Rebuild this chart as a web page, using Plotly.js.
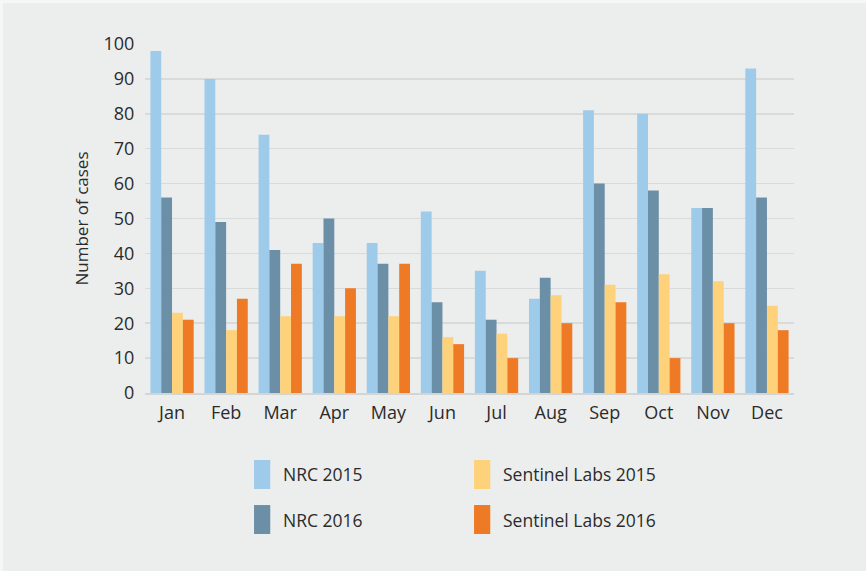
<!DOCTYPE html>
<html>
<head>
<meta charset="utf-8">
<script src="https://cdn.plot.ly/plotly-3.0.1.min.js"></script>
<style>
  html, body { margin: 0; padding: 0; background: #f5f6f6; }
  #chart { position: absolute; left: 3px; top: 3px; width: 863px; height: 568px; }
</style>
</head>
<body>
<div id="chart"></div>
<script>
const months = ["Jan","Feb","Mar","Apr","May","Jun","Jul","Aug","Sep","Oct","Nov","Dec"];
const nrc2015 = [98, 90, 74, 43, 43, 52, 35, 27, 81, 80, 53, 93];
const nrc2016 = [56, 49, 41, 50, 37, 26, 21, 33, 60, 58, 53, 56];
const sentinel2015 = [23, 18, 22, 22, 22, 16, 17, 28, 31, 34, 32, 25];
const sentinel2016 = [21, 27, 37, 30, 37, 14, 10, 20, 26, 10, 20, 18];
const seriesNames = ["NRC 2015", "NRC 2016", "Sentinel Labs 2015", "Sentinel Labs 2016"];
const yTicks = [0,10,20,30,40,50,60,70,80,90,100];

const colors = ["#9ecbea", "#6c8fa8", "#fed17b", "#ee7a25"];
const seriesData = [nrc2015, nrc2016, sentinel2015, sentinel2016];

const traces = seriesData.map((vals, i) => ({
  type: "bar",
  x: months,
  y: vals,
  name: seriesNames[i],
  marker: { color: colors[i], line: { width: 0 } },
  showlegend: false,
  hoverinfo: "x+y+name"
}));

const font = "'Open Sans', 'Noto Sans', sans-serif";

// custom legend: 2 columns x 2 rows (column 1 NRC, column 2 Sentinel)
const legendPos = [
  { col: 0, row: 0 }, { col: 0, row: 1 }, { col: 1, row: 0 }, { col: 1, row: 1 }
];
const colX = [0.168, 0.507];
const rowY = [[-0.275, -0.192], [-0.404, -0.321]];
const shapes = [];
const annotations = [];
legendPos.forEach((p, i) => {
  shapes.push({
    type: "rect", xref: "paper", yref: "paper",
    x0: colX[p.col], x1: colX[p.col] + 0.025,
    y0: rowY[p.row][0], y1: rowY[p.row][1],
    fillcolor: colors[i], line: { width: 0 }
  });
  annotations.push({
    xref: "paper", yref: "paper",
    x: colX[p.col] + 0.041, y: (rowY[p.row][0] + rowY[p.row][1]) / 2,
    xanchor: "left", yanchor: "middle",
    text: seriesNames[i], showarrow: false,
    font: { family: font, size: 17.5, color: "#2b2b2b" }
  });
});

const layout = {
  width: 863, height: 568,
  paper_bgcolor: "#eceeed",
  plot_bgcolor: "#eceeed",
  margin: { l: 142, r: 72, t: 41, b: 178 },
  barmode: "group",
  bargap: 0.2,
  bargroupgap: 0,
  font: { family: font, size: 17, color: "#2b2b2b" },
  xaxis: {
    type: "category",
    showgrid: false,
    zeroline: false,
    showline: true,
    linecolor: "#d3d5d5",
    linewidth: 2,
    ticks: "outside", ticklen: 2, tickcolor: "rgba(0,0,0,0)",
    tickfont: { family: font, size: 18, color: "#2b2b2b" }
  },
  yaxis: {
    range: [0, 100],
    tickvals: yTicks,
    ticktext: yTicks.map(String),
    showgrid: true,
    gridcolor: "#d9dbdb",
    gridwidth: 1.5,
    zeroline: false,
    showline: false,
    ticks: "outside", ticklen: 6, tickcolor: "rgba(0,0,0,0)",
    tickfont: { family: font, size: 18, color: "#2b2b2b" },
    title: { text: "Number of cases", standoff: 10, font: { family: font, size: 17, color: "#2b2b2b" } }
  },
  shapes: shapes,
  annotations: annotations,
  showlegend: false
};

Plotly.newPlot("chart", traces, layout, { displayModeBar: false, staticPlot: true });
</script>
</body>
</html>
